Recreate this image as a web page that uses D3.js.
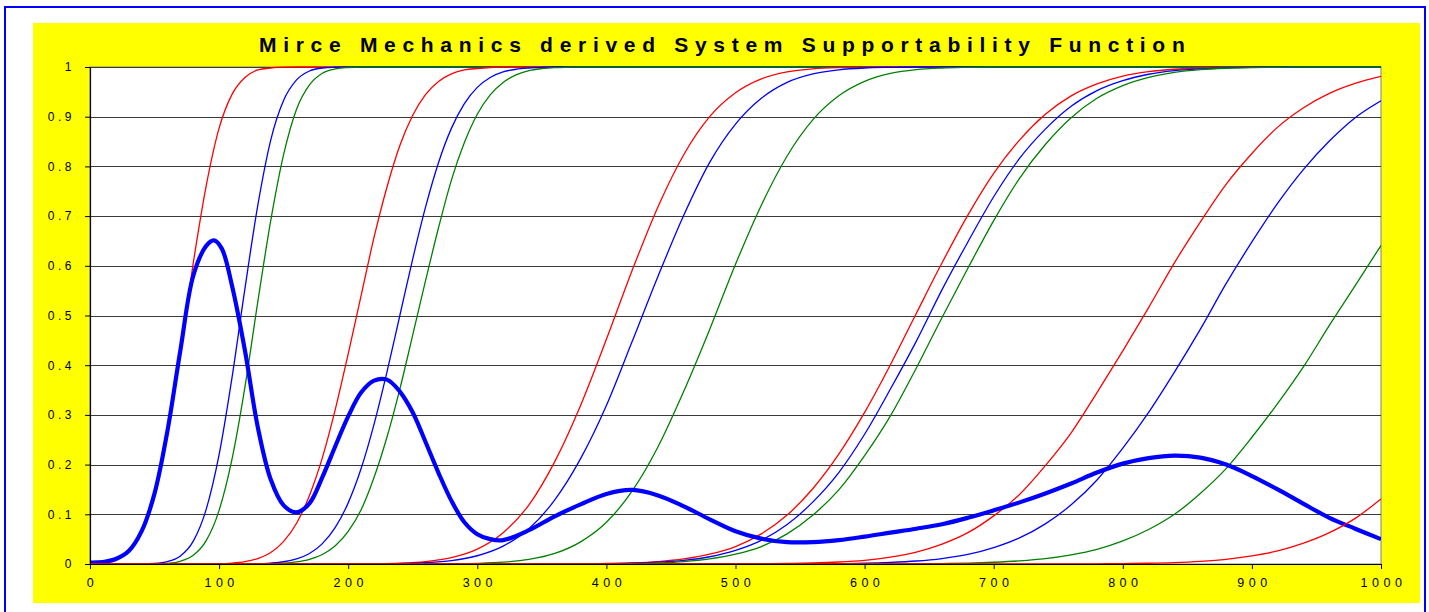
<!DOCTYPE html>
<html>
<head>
<meta charset="utf-8">
<script src="https://cdn.jsdelivr.net/npm/d3@7"></script>
<style>
    body { margin: 0; background: #fff; }
    svg { display: block; }
</style>
</head>
<body>
<div id="chart"></div>
<script>
// values, [time, probability]
const red1 = [[0,0.0005],[10,0.0023],[20,0.008],[30,0.025],[40,0.066],[50,0.143],[60,0.268],[70,0.429],[80,0.606],[90,0.761],[100,0.877],[110,0.945],[120,0.979],[130,0.994],[140,0.998],[150,0.9996],[160,1],[1000,1]];
const blue1 = [[0,0],[40,0.0002],[50,0.0011],[60,0.0048],[70,0.016],[80,0.046],[90,0.11],[100,0.22],[110,0.375],[120,0.554],[130,0.722],[140,0.853],[150,0.933],[160,0.974],[170,0.992],[180,0.998],[190,0.9995],[200,1],[1000,1]];
const green1 = [[0,0],[50,0.0003],[60,0.0014],[70,0.0055],[80,0.0174],[90,0.047],[100,0.108],[110,0.211],[120,0.356],[130,0.528],[140,0.691],[150,0.824],[160,0.915],[170,0.964],[180,0.9875],[190,0.996],[200,0.999],[210,1],[1000,1]];
const red2 = [[0,0],[100,0.0007],[110,0.0019],[120,0.0048],[130,0.011],[140,0.023],[150,0.0455],[160,0.082],[170,0.138],[180,0.214],[190,0.311],[200,0.423],[210,0.54],[220,0.657],[230,0.758],[240,0.842],[250,0.903],[260,0.945],[270,0.971],[280,0.986],[290,0.994],[300,0.997],[310,0.999],[320,1],[1000,1]];
const blue2 = [[0,0],[130,0.0007],[140,0.0019],[150,0.0045],[160,0.0102],[170,0.0212],[180,0.041],[190,0.0735],[200,0.123],[210,0.192],[220,0.281],[230,0.386],[240,0.5],[250,0.614],[260,0.719],[270,0.808],[280,0.877],[290,0.9265],[300,0.959],[310,0.979],[320,0.99],[330,0.9955],[340,0.998],[350,0.9993],[360,1],[1000,1]];
const green2 = [[0,0],[140,0.0007],[150,0.0018],[160,0.0043],[170,0.0094],[180,0.0192],[190,0.0367],[200,0.0655],[210,0.109],[220,0.174],[230,0.255],[240,0.352],[250,0.461],[260,0.571],[270,0.677],[280,0.773],[290,0.848],[300,0.905],[310,0.944],[320,0.969],[330,0.984],[340,0.9927],[350,0.9967],[360,0.9987],[370,0.9995],[380,1],[1000,1]];
const red3 = [[0,0],[200,0.0001],[220,0.0005],[240,0.0017],[260,0.0049],[280,0.0129],[300,0.03],[320,0.063],[340,0.119],[360,0.206],[380,0.319],[400,0.452],[420,0.591],[440,0.719],[460,0.824],[480,0.9],[500,0.948],[520,0.976],[540,0.99],[560,0.9963],[580,0.9988],[600,0.9997],[620,1],[1000,1]];
const blue3 = [[0,0],[220,0.0003],[240,0.0009],[260,0.0026],[280,0.0068],[300,0.0166],[320,0.0359],[340,0.0708],[360,0.129],[380,0.212],[400,0.319],[420,0.448],[440,0.579],[460,0.702],[480,0.808],[500,0.885],[520,0.937],[540,0.969],[560,0.986],[580,0.9943],[600,0.998],[620,0.9993],[640,1],[1000,1]];
const green3 = [[0,0],[260,0.0001],[280,0.0004],[300,0.0013],[320,0.0036],[340,0.0091],[360,0.0212],[380,0.0446],[400,0.084],[420,0.147],[440,0.236],[460,0.348],[480,0.472],[500,0.603],[520,0.722],[540,0.821],[560,0.894],[580,0.942],[600,0.971],[620,0.987],[640,0.9948],[660,0.998],[680,0.9993],[700,1],[1000,1]];
const red4 = [[0,0],[380,0.0004],[400,0.001],[420,0.0023],[440,0.0049],[460,0.0102],[480,0.0197],[500,0.0351],[520,0.0606],[540,0.0985],[560,0.152],[580,0.221],[600,0.305],[620,0.401],[640,0.504],[660,0.606],[680,0.702],[700,0.786],[720,0.853],[740,0.905],[760,0.942],[780,0.966],[800,0.9817],[820,0.9906],[840,0.9955],[860,0.998],[880,0.9991],[900,0.9997],[920,1],[1000,1]];
const blue4 = [[0,0],[380,0.0003],[400,0.0007],[420,0.0016],[440,0.0036],[460,0.0073],[480,0.0146],[500,0.0274],[520,0.0475],[540,0.0793],[560,0.125],[580,0.184],[600,0.261],[620,0.352],[640,0.448],[660,0.552],[680,0.648],[700,0.739],[720,0.816],[740,0.875],[760,0.921],[780,0.9525],[800,0.9726],[820,0.9854],[840,0.9927],[860,0.9964],[880,0.9984],[900,0.9993],[920,1],[1000,1]];
const green4 = [[0,0],[400,0.0004],[420,0.001],[440,0.0023],[460,0.0049],[480,0.0102],[500,0.0197],[520,0.0351],[540,0.0606],[560,0.0985],[580,0.149],[600,0.218],[620,0.298],[640,0.394],[660,0.496],[680,0.595],[700,0.691],[720,0.776],[740,0.844],[760,0.898],[780,0.937],[800,0.9625],[820,0.979],[840,0.989],[860,0.9946],[880,0.9975],[900,0.9989],[920,0.9995],[940,1],[1000,1]];
const red5 = [[0,0],[500,0.0002],[520,0.0004],[540,0.001],[560,0.002],[580,0.004],[600,0.0075],[620,0.0139],[640,0.0239],[660,0.04],[680,0.063],[700,0.0968],[720,0.14],[740,0.198],[760,0.264],[780,0.345],[800,0.429],[820,0.516],[840,0.606],[860,0.688],[880,0.764],[900,0.826],[920,0.879],[940,0.918],[960,0.947],[980,0.967],[1000,0.981]];
const blue5 = [[0,0],[560,0.0003],[580,0.0007],[600,0.0015],[620,0.0032],[640,0.006],[660,0.011],[680,0.0192],[700,0.0329],[720,0.0526],[740,0.0808],[760,0.119],[780,0.169],[800,0.233],[820,0.305],[840,0.386],[860,0.472],[880,0.564],[900,0.648],[920,0.726],[940,0.794],[960,0.851],[980,0.898],[1000,0.932]];
const green5 = [[0,0],[620,0.0002],[640,0.0005],[660,0.0009],[680,0.0018],[700,0.0035],[720,0.0062],[740,0.0107],[760,0.0183],[780,0.0294],[800,0.0465],[820,0.0694],[840,0.1],[860,0.142],[880,0.192],[900,0.255],[920,0.323],[940,0.397],[960,0.48],[980,0.56],[1000,0.641]];
const red6 = [[0,0],[760,0.0002],[780,0.0004],[800,0.0008],[820,0.0015],[840,0.0029],[860,0.0054],[880,0.0094],[900,0.0162],[920,0.0262],[940,0.0418],[960,0.063],[980,0.0918],[1000,0.131]];

// the thick curve: system supportability
const supportability = [[0,0.003],[10,0.004],[20,0.01],[30,0.026],[40,0.066],[50,0.142],[60,0.268],[70,0.43],[80,0.58],[90,0.64],[96,0.651],[102,0.635],[110,0.56],[120,0.43],[130,0.275],[140,0.17],[150,0.118],[160,0.104],[170,0.122],[180,0.175],[190,0.237],[200,0.297],[210,0.345],[220,0.369],[230,0.371],[240,0.347],[250,0.305],[260,0.245],[270,0.183],[280,0.127],[290,0.084],[300,0.06],[310,0.05],[320,0.048],[340,0.068],[360,0.096],[380,0.12],[400,0.141],[420,0.149],[440,0.138],[460,0.116],[480,0.09],[500,0.066],[520,0.051],[540,0.044],[560,0.044],[580,0.048],[600,0.055],[620,0.063],[640,0.071],[660,0.08],[680,0.093],[700,0.108],[720,0.124],[740,0.142],[760,0.162],[780,0.184],[800,0.202],[820,0.213],[840,0.218],[860,0.214],[880,0.2],[900,0.177],[920,0.15],[940,0.121],[960,0.093],[980,0.071],[1000,0.05]];

const xTicks = [0, 100, 200, 300, 400, 500, 600, 700, 800, 900, 1000];
const yTicks = [0, 0.1, 0.2, 0.3, 0.4, 0.5, 0.6, 0.7, 0.8, 0.9, 1];
const yTickLabels = ["0", "0.1", "0.2", "0.3", "0.4", "0.5", "0.6", "0.7", "0.8", "0.9", "1"];
const title = "Mirce Mechanics derived System Supportability Function";

const thinSeries = [
    { data: red1, color: "#ff0000" }, { data: blue1, color: "#0000ff" }, { data: green1, color: "#008000" },
    { data: red2, color: "#ff0000" }, { data: blue2, color: "#0000ff" }, { data: green2, color: "#008000" },
    { data: red3, color: "#ff0000" }, { data: blue3, color: "#0000ff" }, { data: green3, color: "#008000" },
    { data: red4, color: "#ff0000" }, { data: blue4, color: "#0000ff" }, { data: green4, color: "#008000" },
    { data: red5, color: "#ff0000" }, { data: blue5, color: "#0000ff" }, { data: green5, color: "#008000" }
];

const W = 1429, H = 612;
const plot = { left: 90, right: 1381, top: 67, bottom: 564 };
const font = "Arial, 'Liberation Sans', sans-serif";

const svg = d3.select("#chart")
    .append("svg")
    .attr("width", W)
    .attr("height", H);

// frame + yellow chart area
svg.append("rect")
    .attr("x", 5).attr("y", 7)
    .attr("width", 1420).attr("height", 640)
    .attr("fill", "#fff")
    .attr("stroke", "#0000ff")
    .attr("stroke-width", 2);

svg.append("rect")
    .attr("x", 33).attr("y", 23)
    .attr("width", 1387).attr("height", 580)
    .attr("fill", "#ffff00");

svg.append("rect")
    .attr("x", plot.left).attr("y", plot.top)
    .attr("width", plot.right - plot.left).attr("height", plot.bottom - plot.top)
    .attr("fill", "#fff")
    .attr("stroke", "#808080")
    .attr("stroke-width", 1);

svg.append("text")
    .attr("x", 259)
    .attr("y", 52)
    .style("font-family", font)
    .style("font-size", "21px")
    .style("font-weight", "bold")
    .style("letter-spacing", "6.7px")
    .style("fill", "#000")
    .text(title);

const x = d3.scaleLinear()
    .domain([0, 1000])
    .range([plot.left, plot.right]);

const y = d3.scaleLinear()
    .domain([0, 1])
    .range([plot.bottom, plot.top]);

// horizontal gridlines
svg.append("g")
    .selectAll("line")
    .data(yTicks.slice(1))
    .enter().append("line")
    .attr("x1", plot.left)
    .attr("x2", plot.right)
    .attr("y1", d => Math.round(y(d)) + 0.5)
    .attr("y2", d => Math.round(y(d)) + 0.5)
    .attr("stroke", "#3a3a3a")
    .attr("stroke-width", 1);

svg.append("defs").append("clipPath")
    .attr("id", "plot-clip")
    .append("rect")
    .attr("x", plot.left).attr("y", plot.top - 3)
    .attr("width", plot.right - plot.left).attr("height", plot.bottom - plot.top + 3);

const line = d3.line()
    .x(d => x(d[0]))
    .y(d => y(d[1]))
    .curve(d3.curveMonotoneX);

const smoothLine = d3.line()
    .x(d => x(d[0]))
    .y(d => y(d[1]))
    .curve(d3.curveCatmullRom.alpha(0.5));

const curves = svg.append("g").attr("clip-path", "url(#plot-clip)");

curves.selectAll(".thin")
    .data(thinSeries)
    .enter().append("path")
    .attr("class", "thin")
    .attr("fill", "none")
    .attr("stroke", d => d.color)
    .attr("stroke-width", 1.3)
    .attr("d", d => line(d.data));

curves.append("path")
    .datum(supportability)
    .attr("fill", "none")
    .attr("stroke", "#0000ff")
    .attr("stroke-width", 4.2)
    .attr("stroke-linejoin", "round")
    .attr("d", smoothLine);

curves.append("path")
    .datum(red6)
    .attr("fill", "none")
    .attr("stroke", "#ff0000")
    .attr("stroke-width", 1.3)
    .attr("d", line);

// axes
const yAxis = svg.append("g")
    .attr("transform", `translate(${plot.left},0)`)
    .call(d3.axisLeft(y)
        .tickValues(yTicks)
        .tickFormat((d, i) => yTickLabels[i])
        .tickSize(5)
        .tickSizeOuter(0)
        .tickPadding(10));

const xAxis = svg.append("g")
    .attr("transform", `translate(0,${plot.bottom})`)
    .call(d3.axisBottom(x)
        .tickValues(xTicks)
        .tickFormat(d3.format("d"))
        .tickSize(5)
        .tickSizeOuter(0)
        .tickPadding(9));

[yAxis, xAxis].forEach(g => {
    g.select(".domain").attr("stroke", "#000").attr("stroke-width", 1.2);
    g.selectAll(".tick line").attr("stroke", "#000");
});

yAxis.selectAll("text")
    .style("font-family", font)
    .style("font-size", "12px")
    .style("letter-spacing", "3.5px")
    .style("fill", "#000");

xAxis.selectAll("text")
    .style("font-family", font)
    .style("font-size", "12.5px")
    .style("letter-spacing", "4.5px")
    .attr("dx", "2")
    .style("fill", "#000");
</script>
</body>
</html>
